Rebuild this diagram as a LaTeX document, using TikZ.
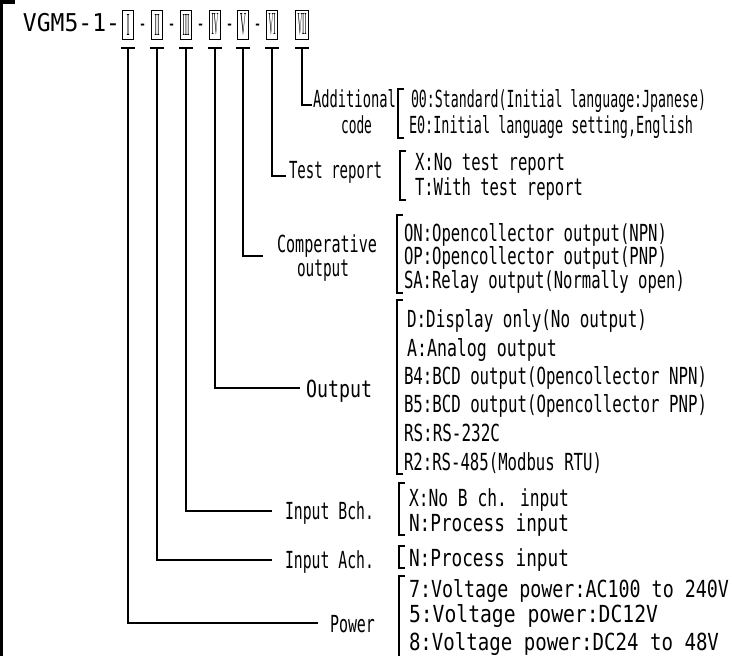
\documentclass[tikz,border=0pt]{standalone}
\usepackage{fontspec}
\setmainfont{DejaVu Sans Mono}
\newfontfamily\romanfont{Liberation Serif}
\usepackage{graphicx}
\newcommand{\fw}[2]{\resizebox{#1pt}{\height}{#2}}
\newcommand{\rn}[2]{\resizebox{#1pt}{21pt}{\romanfont #2}}
\tikzset{
  txt/.style={inner sep=0pt, outer sep=0pt, font=\fontsize{23.5}{27}\selectfont, anchor=base west},
  ttl/.style={inner sep=0pt, outer sep=0pt, font=\fontsize{24.5}{28}\selectfont, anchor=base west},
  dsh/.style={inner sep=0pt, outer sep=0pt, font=\fontsize{23.5}{27}\selectfont, anchor=base},
  conn/.style={line width=2.6pt},
  brk/.style={line width=2.6pt, line join=miter},
  numbox/.style={draw, line width=0.9pt, minimum width=11pt, minimum height=29pt, inner sep=0pt},
}
\newcommand{\mybracket}[3]{\draw[brk] (#1+6,#2) -- (#1,#2) -- (#1,#3) -- (#1+6,#3);}
\begin{document}
\begin{tikzpicture}[x=1pt,y=-1pt]
\useasboundingbox (0,0) rectangle (732,656);
% frame fragments
\fill (0,0) rectangle (15,4);
\draw[line width=3pt] (1.5,0) -- (1.5,656);

% model code
\node[ttl] (title) at (23,31) {\fw{97}{VGM5-1-}};
\node[numbox] (b1) at (128,24.5) {\rn{3}{I}};
\node[numbox] (b2) at (157,24.5) {\rn{5}{II}};
\node[numbox] (b3) at (186,24.5) {\rn{7}{III}};
\node[numbox] (b4) at (215,24.5) {\rn{7}{IV}};
\node[numbox] (b5) at (243,24.5) {\rn{6}{V}};
\node[numbox] (b6) at (272,24.5) {\rn{7}{VI}};
\node[numbox, minimum width=13pt] (b7) at (302,24.5) {\rn{9}{VII}};
\node[dsh] (d1) at (142.5,31) {\fw{8}{-}};
\node[dsh] (d2) at (171.5,31) {\fw{8}{-}};
\node[dsh] (d3) at (200.5,31) {\fw{8}{-}};
\node[dsh] (d4) at (229.5,31) {\fw{8}{-}};
\node[dsh] (d5) at (257.5,31) {\fw{8}{-}};

% T bars
\foreach \i/\x in {1/128,2/157,3/186,4/215,5/243,6/272,7/302}{
  \coordinate (t\i) at (\x,48);
  \draw[conn] ([xshift=-7pt]t\i) -- ([xshift=7pt]t\i);
}

% line ends
\coordinate (e7) at (312,105);
\coordinate (e6) at (286,176);
\coordinate (e5) at (263,256);
\coordinate (e4) at (300,388);
\coordinate (e3) at (272,511);
\coordinate (e2) at (272,560);
\coordinate (e1) at (318,623);
\foreach \i in {1,...,7}{ \draw[conn] (t\i) |- (e\i); }

% labels
\node[txt] (lAdd) at (313,107) {\fw{83}{Additional}};
\node[txt] (lCode) at (341,133) {\fw{31}{code}};
\node[txt] (lTest) at (289,178) {\fw{93}{Test report}};
\node[txt] (lComp) at (277,252) {\fw{100}{Comperative}};
\node[txt] (lComp2) at (297,276) {\fw{52}{output}};
\node[txt] (lOut) at (306,397) {\fw{66}{Output}};
\node[txt] (lB) at (285,519) {\fw{89}{Input Bch.}};
\node[txt] (lA) at (285,568) {\fw{89}{Input Ach.}};
\node[txt] (lP) at (330,632) {\fw{45}{Power}};

% brackets
\mybracket{398}{89}{138}
\mybracket{400}{151}{200}
\mybracket{397}{215}{293}
\mybracket{397}{300}{474}
\mybracket{399}{483}{535}
\mybracket{399}{546}{568}
\mybracket{399}{576}{660}

% options
\node[txt] (a1) at (411,107) {\fw{295}{00:Standard(Initial language:Jpanese)}};
\node[txt] (a2) at (409,133) {\fw{284}{E0:Initial language setting,English}};
\node[txt] (t1n) at (415,170) {\fw{150}{X:No test report}};
\node[txt] (t2n) at (415,195) {\fw{168}{T:With test report}};
\node[txt] (c1) at (404,241) {\fw{263}{ON:Opencollector output(NPN)}};
\node[txt] (c2) at (404,264) {\fw{263}{OP:Opencollector output(PNP)}};
\node[txt] (c3) at (404,288) {\fw{281}{SA:Relay output(Normally open)}};
\node[txt] (o1) at (407,327) {\fw{240}{D:Display only(No output)}};
\node[txt] (o2) at (407,356) {\fw{150}{A:Analog output}};
\node[txt] (o3) at (404,384) {\fw{303}{B4:BCD output(Opencollector NPN)}};
\node[txt] (o4) at (404,412) {\fw{303}{B5:BCD output(Opencollector PNP)}};
\node[txt] (o5) at (404,441) {\fw{96}{RS:RS-232C}};
\node[txt] (o6) at (404,470) {\fw{198}{R2:RS-485(Modbus RTU)}};
\node[txt] (i1) at (409,506) {\fw{160}{X:No B ch. input}};
\node[txt] (i2) at (409,531) {\fw{160}{N:Process input}};
\node[txt] (j1) at (409,566) {\fw{160}{N:Process input}};
\node[txt] (p1) at (409,597) {\fw{320}{7:Voltage power:AC100 to 240V}};
\node[txt] (p2) at (409,622) {\fw{249}{5:Voltage power:DC12V}};
\node[txt] (p3) at (409,650) {\fw{310}{8:Voltage power:DC24 to 48V}};
\end{tikzpicture}
\end{document}
